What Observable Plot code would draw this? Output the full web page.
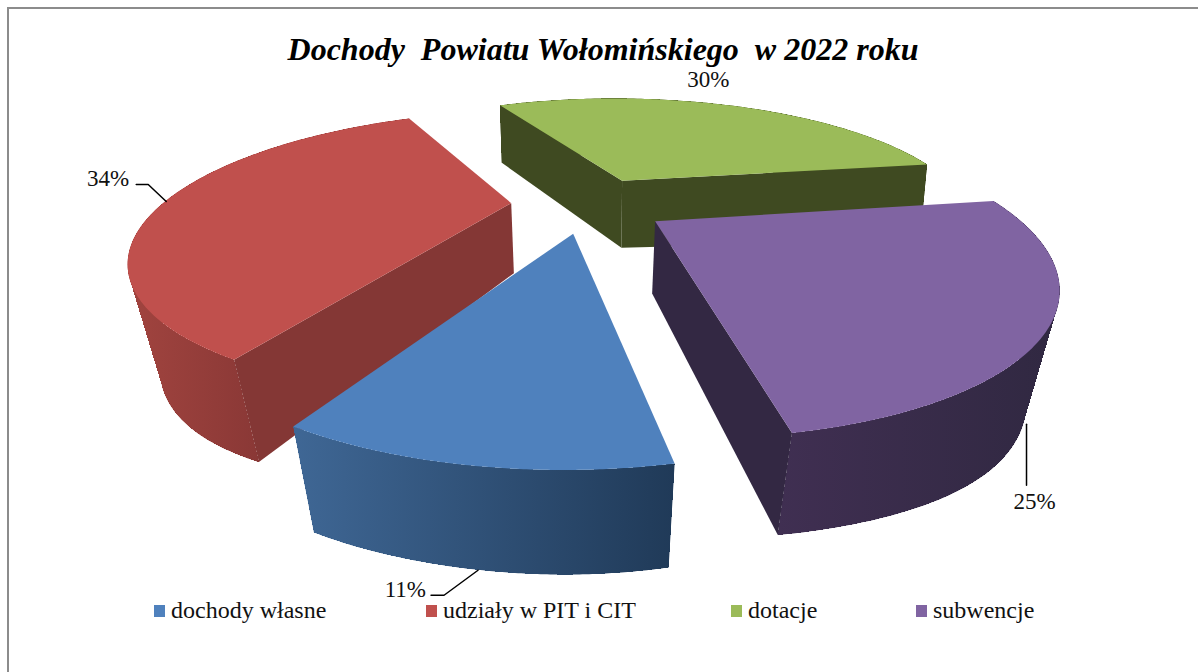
<!DOCTYPE html>
<html><head><meta charset="utf-8">
<script src="https://cdn.jsdelivr.net/npm/d3@7"></script>
<script src="https://cdn.jsdelivr.net/npm/@observablehq/plot@0.6"></script>
<style>
html,body{margin:0;background:#fff;}
#frame{position:relative;width:1198px;height:672px;overflow:hidden;font-family:"Liberation Serif",serif;color:#111;}
#border{position:absolute;left:7px;top:7px;width:1300px;height:800px;border:2px solid #8c8c8c;box-sizing:content-box;}
#title{position:absolute;left:0;width:1206px;top:31px;text-align:center;font:italic bold 32px "Liberation Serif",serif;color:#000;white-space:pre;}
.lg{position:absolute;top:596px;font-size:24px;line-height:28px;white-space:nowrap;}
.lg i{position:absolute;left:-17px;top:9px;width:11px;height:12px;}
svg{position:absolute;left:0;top:0;}
</style></head><body><div id="frame">
<div id="border"></div>
<div id="chart"></div>
<div id="title">Dochody  Powiatu Wołomińskiego  w 2022 roku</div>
<div id="legend"></div>
</div>
<script>
const categories = ["dochody własne","udziały w PIT i CIT","dotacje","subwencje"];
const shares = [11,34,30,25];
const topColors = ["#4f81bd","#c0504d","#9bbb59","#8064a2"];
const cutColors = ["#254061","#843735","#3f4a21","#332843"];
const wallFrom  = ["#3f6795","#a1443f","#3f4a21","#402f52"];
const wallTo    = ["#203a58","#8a3836","#3f4a21","#302841"];
const legendX   = [171,443,748,933];

const startAngle = 171, explode = 0.2235;
const angleNudge = [[-1.6,-1.9],[-1.6,0],[0,0],[0,-1]];
const cx = 589, cy = 204, f = 349, gy = 125, k = 0.35;

const rad = d => d*Math.PI/180;
const project = (X,Y) => { const w = 1+k*Y; return {x: cx+f*X/w, y: cy-gy*Y/w}; };
const lower = p => {
  const t = 0.07*Math.min(1,Math.max(0.3,(p.y-150)/110));
  const dx = Math.abs(p.x-cx);
  return {x: cx+(p.x-cx)*(1-t), y: p.y+70+0.13*(p.y-cy)+28*Math.pow(dx/470,3)};
};

let acc = startAngle;
const slices = shares.map((s,i)=>{
  const b0 = acc, b1 = acc + s*3.6; acc = b1;
  const a0 = b0 + angleNudge[i][0], a1 = b1 + angleNudge[i][1];
  const mid = (b0+b1)/2;
  const ex = explode*Math.sin(rad(mid)), ey = explode*Math.cos(rad(mid));
  const apex = project(ex,ey);
  const at = t => project(ex+Math.sin(rad(t)), ey+Math.cos(rad(t)));
  const rim = d3.range(0,121).map(j=>at(a0+(a1-a0)*j/120));
  return {i,a0,a1,mid,apex,at,rim,rim2:rim.map(lower),apex2:lower(apex)};
});

const topFace = s => s.rim.map(p=>({x1:s.apex.x,y1:s.apex.y,x2:p.x,y2:p.y}));
/* the outer wall is swept as narrow quads under one gradient across its visible part */
const wall = s => d3.range(120).flatMap(j=>{
  const a=s.rim[j],b=s.rim[j+1],a2=s.rim2[j],b2=s.rim2[j+1];
  return [{x1:a.x,y1:a.y,x2:a2.x,y2:a2.y,z:j},{x1:b.x,y1:b.y,x2:b2.x,y2:b2.y,z:j}];
});
const wallEdge = s => s.rim.map((p,j)=>({x1:p.x,y1:p.y,x2:s.rim2[j].x,y2:s.rim2[j].y}));
const cut = (s,e) => [ {x1:s.apex.x,y1:s.apex.y,x2:s.apex2.x,y2:s.apex2.y},
                       {x1:e.x,y1:e.y,x2:lower(e).x,y2:lower(e).y} ];
const area = (d,fill) => Plot.area(d,{x1:"x1",y1:"y1",x2:"x2",y2:"y2",fill,curve:"linear"});

const order = [2,1,3,0];
const visibleCuts = [[],[0],[0,120],[120]];
const marks = [];
marks.push(()=>{
  const ns="http://www.w3.org/2000/svg";
  const defs=document.createElementNS(ns,"defs");
  slices.forEach(s=>{
    const xs=s.rim.flatMap((p,j)=>p.y>cy?[p.x,s.rim2[j].x]:[]);
    const [lo,hi]=d3.extent(xs);
    const g=document.createElementNS(ns,"linearGradient");
    g.setAttribute("id","wall"+s.i);
    g.setAttribute("gradientUnits","userSpaceOnUse");
    g.setAttribute("x1",lo);g.setAttribute("x2",hi);g.setAttribute("y1",0);g.setAttribute("y2",0);
    [[0,wallFrom[s.i]],[1,wallTo[s.i]]].forEach(([o,c])=>{
      const st=document.createElementNS(ns,"stop");
      st.setAttribute("offset",o);st.setAttribute("stop-color",c);g.appendChild(st);});
    defs.appendChild(g);
  });
  return defs;
});
for(const i of order){
  const s=slices[i];
  const w=`url(#wall${i})`;
  marks.push(Plot.area(wall(s),{x1:"x1",y1:"y1",x2:"x2",y2:"y2",z:"z",fill:w,curve:"linear",shapeRendering:"crispEdges"}));
  marks.push(area(wallEdge(s),w));
  visibleCuts[i].forEach(j=>marks.push(area(cut(s,s.rim[j]),cutColors[i])));
  marks.push(area(topFace(s),topColors[i]));
}
/* labels: leader from the slice's rim to a label placed beside it */
const labelSpec = [
  {i:0,t:189,low:true, path:[[0,0],[-34,25],[-47,25]],lab:[-52,19],anchor:"end"},
  {i:1,t:271,low:false,path:[[0,0],[-18,-17],[-30,-17]],lab:[-37,-23],anchor:"end"},
  {i:2,t:6,low:false,path:[],lab:[68,-20],anchor:"middle"},
  {i:3,t:112,low:true,path:[[0,35],[0,96]],lab:[8,112],anchor:"middle"}
];
labelSpec.forEach(l=>{
  const s=slices[l.i]; let p=s.at(l.t); if(l.low)p=lower(p);
  if(l.path.length) marks.push(Plot.line(l.path.map(q=>({x:p.x+q[0],y:p.y+q[1]})),{x:"x",y:"y",stroke:"#000",strokeWidth:1.5}));
  marks.push(Plot.text([{x:p.x+l.lab[0],y:p.y+l.lab[1],t:shares[l.i]+"%"}],{x:"x",y:"y",text:"t",textAnchor:l.anchor,fontSize:23,fontFamily:"Liberation Serif",fill:"#111"}));
});
document.getElementById("chart").append(Plot.plot({
  width:1198,height:672,margin:0,
  x:{domain:[0,1198],range:[0,1198],axis:null},
  y:{domain:[0,672],range:[0,672],axis:null},
  style:{background:"transparent"},
  marks
}));
const lg=document.getElementById("legend");
categories.forEach((c,i)=>{
  const d=document.createElement("div");d.className="lg";d.style.left=legendX[i]+"px";
  d.innerHTML=`<i style="background:${topColors[i]}"></i>${c}`;lg.append(d);
});
</script></body></html>
